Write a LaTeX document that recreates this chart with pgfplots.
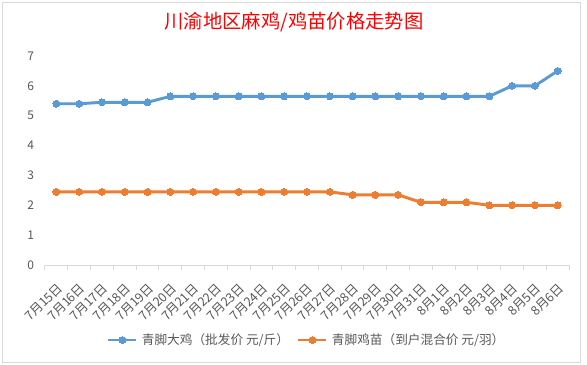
\documentclass[border=0pt]{standalone}
\usepackage{fontspec}
\setmainfont{Noto Sans CJK SC}
\usepackage{pgfplots}
\usepackage{pgfplotstable}
\pgfplotsset{compat=1.18}
\definecolor{cblue}{HTML}{5B9BD5}
\definecolor{corange}{HTML}{ED7D31}
\definecolor{cgrid}{HTML}{D9D9D9}
\definecolor{ctext}{HTML}{595959}
\pgfplotstableread{
x y
0 5.4
1 5.4
2 5.45
3 5.45
4 5.45
5 5.65
6 5.65
7 5.65
8 5.65
9 5.65
10 5.65
11 5.65
12 5.65
13 5.65
14 5.65
15 5.65
16 5.65
17 5.65
18 5.65
19 5.65
20 6.0
21 6.0
22 6.5
}\bigchick
\pgfplotstableread{
x y
0 2.45
1 2.45
2 2.45
3 2.45
4 2.45
5 2.45
6 2.45
7 2.45
8 2.45
9 2.45
10 2.45
11 2.45
12 2.45
13 2.35
14 2.35
15 2.35
16 2.1
17 2.1
18 2.1
19 2.0
20 2.0
21 2.0
22 2.0
}\chickling
\begin{document}
\begin{tikzpicture}
\useasboundingbox (-33.75pt,-75pt) rectangle (406.5pt,198.75pt);
\fill[white] (-33.75pt,-75pt) rectangle (406.5pt,198.75pt);
\draw[cgrid, line width=0.75pt] (-31.5pt,-72.75pt) rectangle (401.25pt,196.5pt);
\begin{axis}[
  at={(0,0)}, anchor=south west,
  scale only axis, width=393pt, height=156.75pt,
  xmin=-0.5, xmax=22.5, ymin=0, ymax=7,
  xtick={0,...,22},
  xticklabels={7月15日,7月16日,7月17日,7月18日,7月19日,7月20日,7月21日,7月22日,7月23日,7月24日,7月25日,7月26日,7月27日,7月28日,7月29日,7月30日,7月31日,8月1日,8月2日,8月3日,8月4日,8月5日,8月6日},
  minor xtick={-0.5,0.5,...,22.5},
  major tick length=0pt,
  minor tick length=3.5pt,
  tick align=outside,
  every minor tick/.style={cgrid, line width=0.75pt},
  ytick={0,1,...,7},
  ymajorgrids, major grid style={cgrid, line width=0.75pt},
  axis line style={draw=none},
  axis x line*=bottom, axis y line=none,
  extra description/.code={\draw[cgrid, line width=0.75pt] (0,0) -- (1,0);},
  xticklabel style={rotate=45, anchor=east, font=\fontsize{9.5pt}{10pt}\selectfont, text=ctext, inner sep=0pt, yshift=-13pt, xshift=-9pt},
  /pgf/number format/assume math mode=true,
]
\end{axis}
\begin{axis}[
  at={(0,0)}, anchor=south west,
  scale only axis, width=393pt, height=156.75pt,
  xmin=-0.5, xmax=22.5, ymin=0, ymax=7,
  axis lines=none,
  ytick={0,1,...,7},
  /pgf/number format/assume math mode=true,
  legend columns=2,
  legend style={at={(0.5,-0.359)}, anchor=center, draw=none, fill=none, font=\fontsize{9.5pt}{11pt}\selectfont, text=ctext, inner sep=0pt, /tikz/every even column/.append style={column sep=4pt}, /tikz/every odd column/.append style={column sep=1pt}},
  legend image code/.code={\draw[#1,mark repeat=2,mark phase=2] plot coordinates {(0pt,0pt)(10.5pt,0pt)(21pt,0pt)};},
  clip=false,
]
\addplot[cblue, line width=2.2pt, mark=*, mark size=2.6pt, mark options={solid, fill=cblue, line width=0pt}] table[x=x,y=y] {\bigchick};
\addlegendentry{青脚大鸡（批发价 元/斤）}
\addplot[corange, line width=2.2pt, mark=*, mark size=2.6pt, mark options={solid, fill=corange, line width=0pt}] table[x=x,y=y] {\chickling};
\addlegendentry{青脚鸡苗（到户混合价 元/羽）}
\pgfplotsinvokeforeach{0,1,...,7}{\node[anchor=east, text=ctext, font=\fontsize{9pt}{10pt}\selectfont, inner sep=0pt] at (axis cs:-0.5,#1) [xshift=-8pt] {#1};}
\end{axis}
\node[text=red, font=\fontsize{14.5pt}{16pt}\selectfont] at (186.75pt,182.25pt) {川渝地区麻鸡/鸡苗价格走势图};
\end{tikzpicture}
\end{document}
